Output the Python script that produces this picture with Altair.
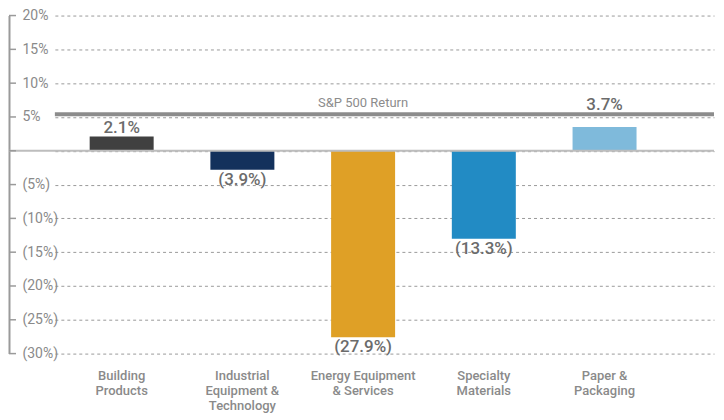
import altair as alt
import pandas as pd

# ---- data ----
categories = ["Building Products", "Industrial Equipment & Technology",
              "Energy Equipment & Services", "Specialty Materials", "Paper & Packaging"]
category_lines = [["Building", "Products"], ["Industrial", "Equipment &", "Technology"],
                  ["Energy Equipment", "& Services"], ["Specialty", "Materials"],
                  ["Paper &", "Packaging"]]
bar_values = [2.1, -2.8, -27.6, -13.0, 3.5]
value_labels = ["2.1%", "(3.9%)", "(27.9%)", "(13.3%)", "3.7%"]
bar_colors = ["#404040", "#13315C", "#DFA026", "#228BC4", "#7FBADB"]
sp500_return = 5.4
sp500_label = "S&P 500 Return"
y_ticks = [-30, -25, -20, -15, -10, -5, 0, 5, 10, 15, 20]

FONT = "Roboto"
W, H = 661, 339
AXIS_OFF = 46

df = pd.DataFrame({
    "category": categories,
    "value": bar_values,
    "label": value_labels,
    "pos": [v >= 0 for v in bar_values],
})

label_map = "{" + ",".join(
    "'" + c.replace("'", "\\'") + "':[" + ",".join("'" + l + "'" for l in ls) + "]"
    for c, ls in zip(categories, category_lines)) + "}"

x_enc = alt.X("category:N", sort=categories, title=None,
              scale=alt.Scale(paddingInner=0.47, paddingOuter=0.465, align=0.31),
              axis=alt.Axis(domain=False, ticks=False, labelAngle=0,
                            labelExpr=label_map + "[datum.value]",
                            labelFont=FONT, labelFontSize=13, labelFontWeight=500,
                            labelColor="#8a8a8a", labelPadding=16, labelLineHeight=15,
                            labelBaseline="top"))

y_scale = alt.Scale(domain=[-30, 20], nice=False, zero=False)
y_axis = alt.Axis(values=y_ticks, offset=AXIS_OFF, ticks=False,
                  domainColor="#9a9a9a", domainWidth=2,
                  labelExpr="datum.value == 0 ? '' : (datum.value < 0 ? '(' + abs(datum.value) + '%)' : datum.value + '%')",
                  labelAlign="left", labelPadding=-13,
                  labelFont=FONT, labelFontSize=14, labelColor="#8a8a8a",
                  grid=True, gridDash=[3, 3], gridColor="#9a9a9a", gridWidth=1)


def Y(field):
    return alt.Y(field, scale=y_scale, title=None, axis=y_axis)


bars = alt.Chart(df).mark_bar().encode(
    x=x_enc,
    y=Y("value:Q"),
    color=alt.Color("category:N", sort=categories, legend=None,
                    scale=alt.Scale(domain=categories, range=bar_colors)),
)

# positive labels that would collide with the S&P line sit just above it
pos_text = alt.Chart(df).transform_filter("datum.pos").transform_calculate(
    ly=f"datum.value > {sp500_return} - 2.5 ? {sp500_return} : datum.value",
    shift=f"datum.value > {sp500_return} - 2.5 ? -4 : -2",
).mark_text(
    baseline="bottom", font=FONT, fontSize=17, fontWeight=500, color="#6b6b6b"
).encode(x=x_enc, y=alt.Y("ly:Q", scale=y_scale, title=None, axis=y_axis),
         yOffset=alt.YOffset("shift:Q", scale=None), text="label:N")

neg_text = alt.Chart(df).transform_filter("!datum.pos").mark_text(
    baseline="top", dy=2, font=FONT, fontSize=17, fontWeight=500, color="#6b6b6b"
).encode(x=x_enc, y=Y("value:Q"), text="label:N")

sp_df = pd.DataFrame({"value": [sp500_return], "t": [sp500_label], "category": [categories[2]]})
sp_rule = alt.Chart(sp_df).mark_rule(size=4, color="#8c8c8c").encode(y=Y("value:Q"))
sp_text = alt.Chart(sp_df).mark_text(
    baseline="bottom", dy=-4, font=FONT, fontSize=13, color="#8c8c8c"
).encode(x=x_enc, y=Y("value:Q"), text="t:N")

zero_rule = alt.Chart(pd.DataFrame({"value": [0]})).mark_rule(size=2, color="#bdbdbd").encode(
    y=Y("value:Q"), x=alt.value(-AXIS_OFF), x2=alt.value(W))

tick_rules = alt.Chart(pd.DataFrame({"value": y_ticks})).mark_rule(size=1.5, color="#9a9a9a").encode(
    y=Y("value:Q"), x=alt.value(-AXIS_OFF), x2=alt.value(-AXIS_OFF + 7))

chart = alt.layer(bars, zero_rule, tick_rules, sp_rule, sp_text, pos_text, neg_text).properties(
    width=W, height=H,
    padding={"left": 0, "top": 0, "right": 0, "bottom": 0},
    background="white",
).configure_view(stroke=None)

chart.save("out.html", embed_options={"renderer": "svg", "actions": False})
